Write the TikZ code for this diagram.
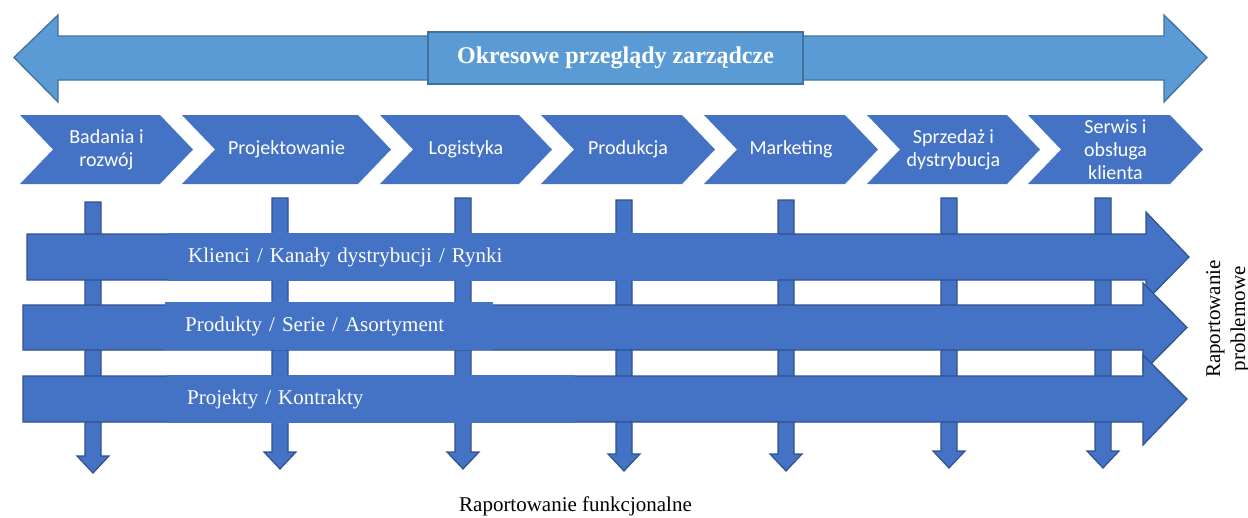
\documentclass[tikz,border=0pt]{standalone}
\usepackage{fontspec}
\setmainfont{Liberation Serif}
\newfontfamily\chevfont{Carlito}
\definecolor{lightblue}{HTML}{5B9BD5}
\definecolor{lightedge}{HTML}{41719C}
\definecolor{mainblue}{HTML}{4472C4}
\definecolor{darkedge}{HTML}{2F528F}
\begin{document}
\begin{tikzpicture}[x=1pt,y=-1pt,
  bigarrow/.style={fill=lightblue,draw=lightedge,line width=1.3pt,line join=miter},
  titlebox/.style={fill=lightblue,draw=lightedge,line width=1.3pt,minimum width=375pt,minimum height=52pt,
    text=white,font=\fontsize{24}{28}\selectfont\bfseries},
  chevron/.style={fill=mainblue,draw=none},
  chevtext/.style={text=white,align=center,font=\chevfont\fontsize{20}{23}\selectfont,inner sep=0pt},
  downarrow/.style={fill=mainblue,draw=darkedge,line width=1.2pt,line join=miter},
  flowarrow/.style={fill=mainblue,draw=darkedge,line width=1.2pt,line join=miter},
  flowlabel/.style={fill=mainblue,draw=none,anchor=west,minimum height=48pt,inner ysep=0pt,inner xsep=20pt,
    text=white,align=left,font=\fontsize{21}{25}\selectfont},
  sidetext/.style={align=center,font=\fontsize{21}{25}\selectfont,inner sep=0pt}]
\useasboundingbox (0,0) rectangle (1248,517);

% management review double arrow
\draw[bigarrow] (14,57.5) -- (58,15) -- (58,36) -- (1164,36) -- (1164,15) -- (1207,57.5)
  -- (1164,102) -- (1164,80) -- (58,80) -- (58,102) -- cycle;
\node[titlebox] (review) at (615.5,58) {Okresowe przeglądy zarządcze};

% value chain chevrons: left edge, right tip
\foreach \name/\xa/\xb/\txt in {
    rd/20/193/{Badania i\\rozwój},
    design/182/391/{Projektowanie},
    logistics/380/552/{Logistyka},
    production/541/715/{Produkcja},
    marketing/704/878/{Marketing},
    sales/867/1040/{Sprzedaż i\\dystrybucja},
    service/1028/1203/{Serwis i\\obsługa\\klienta}} {
  \fill[chevron] (\xa,115) -- (\xb-33,115) -- (\xb,149.5) -- (\xb-33,184) -- (\xa,184) -- (\xa+33,149.5) -- cycle;
  \node[chevtext] (\name) at ({(\xa+\xb)/2},149.5) {\txt};
}

% functional reporting arrows
\foreach \name/\cx/\top/\tip in {
    frd/93/202/473, fdesign/280/198/469, flog/463/198/469, fprod/624/200/471,
    fmkt/786/200/471, fsales/949/198/468, fserv/1103/198/468} {
  \draw[downarrow] (\cx-8,\top) -- (\cx+8,\top) -- (\cx+8,\tip-17) -- (\cx+16,\tip-17) -- (\cx,\tip)
    -- (\cx-16,\tip-17) -- (\cx-8,\tip-17) -- cycle;
  \coordinate (\name) at (\cx,\tip);
}

% problem reporting arrows
\draw[flowarrow] (27,234) -- (1146,234) -- (1146,212) -- (1189,257) -- (1146,301) -- (1146,280) -- (27,280) -- cycle;
\node[flowlabel,minimum width=610pt,text width=570pt] (customers) at (168,257) {Klienci / Kanały dystrybucji / Rynki};

\draw[flowarrow] (23,305) -- (1143,305) -- (1143,283) -- (1187,327.5) -- (1143,372) -- (1143,350) -- (23,350) -- cycle;
\node[flowlabel,minimum width=328pt,text width=288pt] (products) at (165,326) {Produkty / Serie / Asortyment};

\draw[flowarrow] (23,376) -- (1143,376) -- (1143,355) -- (1187,399) -- (1143,445) -- (1143,422) -- (23,422) -- cycle;
\node[flowlabel,minimum width=408pt,text width=368pt] (projects) at (167,399) {Projekty / Kontrakty};

% axis captions
\node[sidetext,rotate=90] (problem) at (1228,319) {Raportowanie\\problemowe};
\node[sidetext] (functional) at (575.5,506) {Raportowanie funkcjonalne};
\end{tikzpicture}
\end{document}
